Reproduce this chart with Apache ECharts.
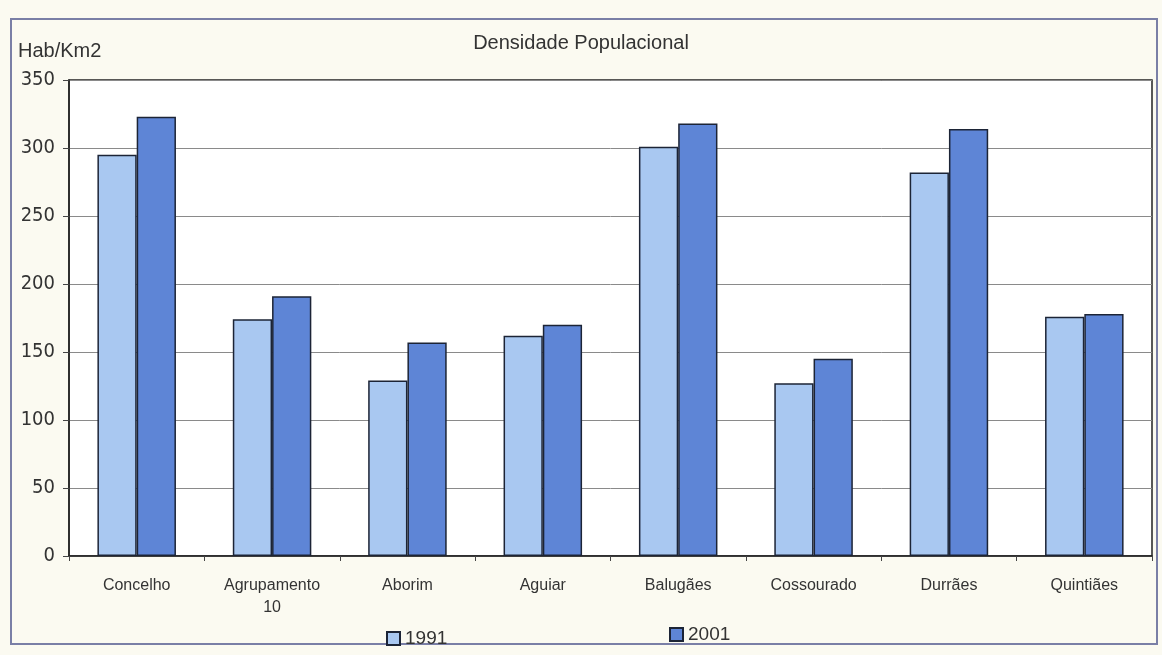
<!DOCTYPE html>
<html>
<head>
<meta charset="utf-8">
<script src="https://cdn.jsdelivr.net/npm/echarts@6/dist/echarts.min.js"></script>
<style>
  html, body { margin: 0; padding: 0; background: #fbfaf1; }
  #main { width: 1162px; height: 655px; }
</style>
</head>
<body>
<div id="main"></div>
<script>
// dados
var categorias = ['Concelho', 'Agrupamento\n10', 'Aborim', 'Aguiar', 'Balugães', 'Cossourado', 'Durrães', 'Quintiães'];
var anos = ['1991', '2001'];
var dens1991 = [295, 174, 129, 162, 301, 127, 282, 176];
var dens2001 = [323, 191, 157, 170, 318, 145, 314, 178];
var yTicks = [0, 50, 100, 150, 200, 250, 300, 350];

var myChart = echarts.init(document.getElementById('main'));

var option = {
    backgroundColor: '#fbfaf1',
    animation: false,
    title: [{
        text: 'Densidade Populacional',
        left: 'center',
        top: 28,
        textStyle: { fontFamily: 'Liberation Sans', fontWeight: 'normal', fontSize: 20, color: '#333' }
    }, {
        text: 'Hab/Km2',
        left: 13,
        top: 36,
        textStyle: { fontFamily: 'Liberation Sans', fontWeight: 'normal', fontSize: 20, color: '#333' }
    }],
    // moldura exterior
    graphic: [{
        type: 'rect',
        shape: { x: 11, y: 19, width: 1146, height: 625 },
        style: { fill: 'none', stroke: '#7a7fa6', lineWidth: 2 },
        silent: true
    }],
    legend: [{
        data: ['1991'],
        left: 381,
        top: 624,
        itemWidth: 13,
        itemHeight: 13,
        icon: 'rect',
        textStyle: { fontFamily: 'Liberation Sans', fontSize: 19, color: '#333' }
    }, {
        data: ['2001'],
        left: 664,
        top: 620,
        itemWidth: 13,
        itemHeight: 13,
        icon: 'rect',
        textStyle: { fontFamily: 'Liberation Sans', fontSize: 19, color: '#333' }
    }],
    grid: {
        left: 69,
        right: 10,
        top: 80,
        bottom: 99,
        show: true,
        backgroundColor: '#ffffff',
        borderColor: '#222',
        borderWidth: 1.5
    },
    xAxis: {
        type: 'category',
        data: categorias,
        axisLine: { lineStyle: { color: '#222', width: 1.5 } },
        axisTick: { show: true, length: 5, lineStyle: { color: '#444' } },
        axisLabel: {
            margin: 19,
            fontFamily: 'Liberation Sans',
            fontSize: 16,
            color: '#333',
            lineHeight: 22
        }
    },
    yAxis: {
        type: 'value',
        min: yTicks[0],
        max: yTicks[yTicks.length - 1],
        interval: 50,
        axisLine: { show: true, lineStyle: { color: '#222', width: 1.5 } },
        axisTick: { show: true, length: 6, lineStyle: { color: '#444' } },
        axisLabel: {
            margin: 14,
            fontFamily: 'DejaVu Sans Condensed',
            fontSize: 20,
            color: '#333'
        },
        splitLine: { lineStyle: { color: '#8a8a8a', width: 1 } }
    },
    series: [{
        name: anos[0],
        type: 'bar',
        data: dens1991,
        barGap: '0%',
        barCategoryGap: '42%',
        itemStyle: { color: '#a9c8f1', borderColor: '#1c2436', borderWidth: 1.5 }
    }, {
        name: anos[1],
        type: 'bar',
        data: dens2001,
        itemStyle: { color: '#5e85d6', borderColor: '#1c2436', borderWidth: 1.5 }
    }]
};

myChart.setOption(option);
</script>
</body>
</html>
